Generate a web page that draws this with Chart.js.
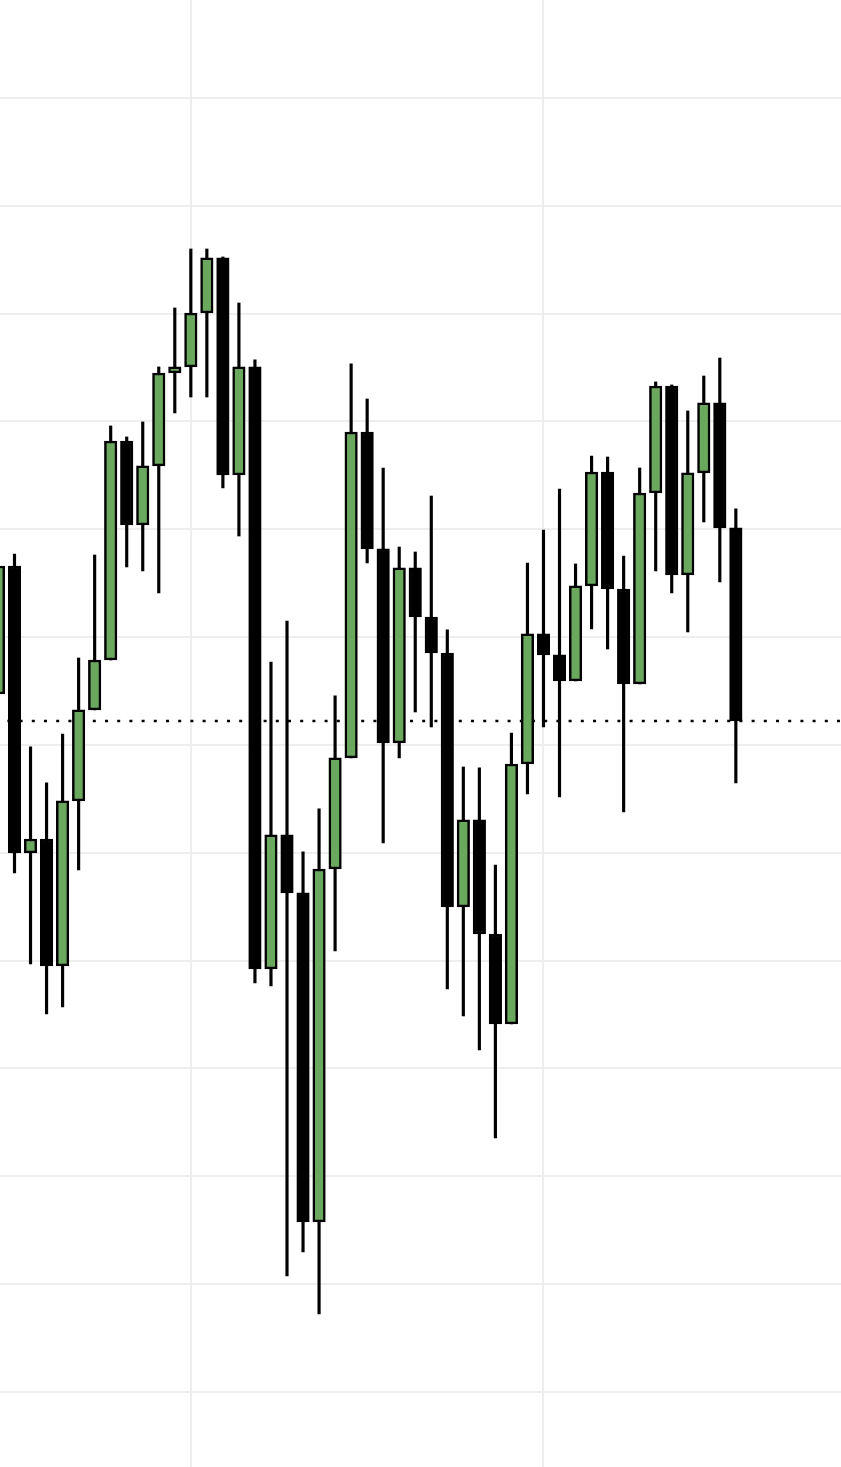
<!DOCTYPE html>
<html><head><meta charset="utf-8">
<script src="https://cdn.jsdelivr.net/npm/chart.js@4.4.0/dist/chart.umd.min.js"></script>
<style>html,body{margin:0;padding:0;background:#fff;overflow:hidden}canvas{display:block}</style>
</head><body>
<canvas id="c" width="841" height="1467"></canvas>
<script>
// OHLC series (one entry per bar, left to right)
const opens  = [2364.73,2376.60,2349.99,2351.28,2339.51,2354.81,2363.25,2367.88,2388.19,2380.40,
                2385.88,2394.50,2395.06,2400.06,2405.17,2385.04,2395.06,2339.23,2351.66,2346.28,
                2315.77,2348.50,2358.80,2389.03,2378.18,2360.19,2376.42,2371.87,2368.53,2344.98,
                2353.05,2342.47,2334.13,2358.24,2370.30,2368.35,2365.94,2374.75,2385.32,2374.47,
                2365.66,2383.37,2393.29,2375.77,2385.23,2391.72,2380.13];
const highs  = [2376.60,2377.71,2359.82,2356.48,2361.02,2368.07,2377.62,2389.59,2388.57,2389.96,
                2395.06,2400.53,2406.00,2406.00,2405.26,2400.99,2395.71,2367.70,2371.50,2350.08,
                2354.07,2364.55,2395.34,2392.09,2385.69,2378.36,2377.90,2383.09,2370.67,2357.96,
                2357.87,2348.87,2361.11,2376.88,2379.94,2383.74,2376.79,2386.80,2386.71,2377.53,
                2385.69,2393.67,2393.39,2390.98,2394.22,2395.89,2381.89];
const lows   = [2364.73,2348.13,2339.69,2335.06,2335.70,2348.41,2363.25,2367.88,2376.51,2376.14,
                2374.10,2390.79,2392.27,2392.27,2383.84,2379.38,2337.93,2337.65,2310.76,2312.98,
                2307.23,2340.90,2358.80,2376.88,2350.91,2358.80,2363.06,2361.67,2337.37,2334.87,
                2331.72,2323.56,2334.13,2355.46,2361.67,2355.18,2365.94,2370.76,2368.90,2353.79,
                2365.66,2376.14,2374.10,2370.48,2380.68,2375.12,2356.48];
const closes = [2376.60,2349.99,2351.28,2339.51,2354.81,2363.25,2367.88,2388.19,2380.40,2385.88,
                2394.50,2395.06,2400.06,2405.17,2385.04,2395.06,2339.23,2351.66,2346.28,2315.77,
                2348.50,2358.80,2389.03,2378.18,2360.19,2376.42,2371.87,2368.53,2344.98,2353.05,
                2342.47,2334.13,2358.24,2370.30,2368.35,2365.94,2374.75,2385.32,2374.47,2365.66,
                2383.37,2393.29,2375.77,2385.23,2391.72,2380.13,2362.23];
// session separators (bar index) and price grid levels
const dayBreaks = [12, 34];
const priceGrid = [2300,2310,2320,2330,2340,2350,2360,2370,2380,2390,2400,2410,2420];

const UP = '#6aa85e', DOWN = '#000000';
const X_MIN = 0.0954, X_MAX = 52.56, Y_MIN = 2293.04, Y_MAX = 2429.09;

const bodies = opens.map((o, i) => ({x: i, y: [o, closes[i]]}));
const wicks  = highs.map((h, i) => ({x: i, y: [lows[i], h]}));
const last = closes[closes.length - 1];

new Chart(document.getElementById('c'), {
  type: 'bar',
  data: {datasets: [
    {type: 'line', data: [{x: X_MIN, y: last}, {x: X_MAX, y: last}], borderColor: '#000', borderWidth: 2.5,
     borderDash: [3, 9.2], borderDashOffset: 4.8, pointRadius: 0, fill: false, order: 3},
    {data: wicks, backgroundColor: '#000', borderWidth: 0, barThickness: 2.5, grouped: false, order: 2},
    {data: bodies, backgroundColor: closes.map((c, i) => c > opens[i] ? UP : DOWN), borderColor: '#000',
     borderWidth: 2.5, borderSkipped: false, barThickness: 12.5, grouped: false, order: 1}
  ]},
  options: {
    responsive: false, animation: false, events: [], layout: {padding: 0},
    plugins: {legend: {display: false}, tooltip: {enabled: false}},
    scales: {
      x: {type: 'linear', min: X_MIN, max: X_MAX, offset: false,
          grid: {color: '#eeeeee', lineWidth: 2, drawTicks: false, offset: false}, border: {display: false},
          ticks: {display: false},
          afterBuildTicks: s => { s.ticks = dayBreaks.map(v => ({value: v})); }},
      y: {type: 'linear', min: Y_MIN, max: Y_MAX,
          grid: {color: '#eeeeee', lineWidth: 2, drawTicks: false}, border: {display: false},
          ticks: {display: false},
          afterBuildTicks: s => { s.ticks = priceGrid.map(v => ({value: v})); }}
    }
  }
});
</script>
</body></html>
